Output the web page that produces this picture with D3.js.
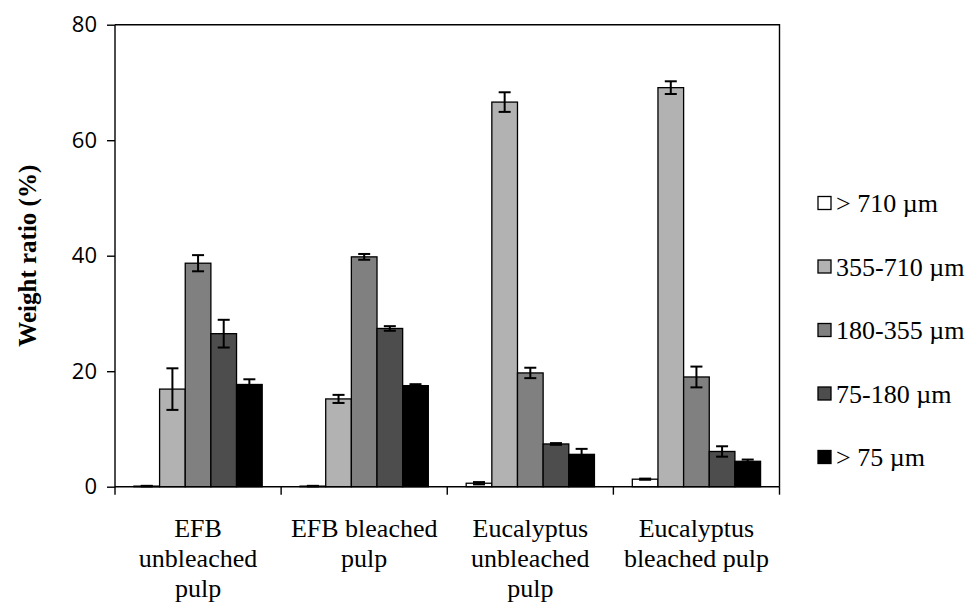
<!DOCTYPE html>
<html>
<head>
<meta charset="utf-8">
<script src="https://cdn.jsdelivr.net/npm/d3@7/dist/d3.min.js"></script>
<style>
  html, body { margin: 0; padding: 0; background: #fff; }
  svg { display: block; }
</style>
</head>
<body>
<svg id="chart" width="974" height="607"></svg>
<script>
// Pulp samples (x categories), each split into one line per label row
const categories = ["EFB unbleached pulp", "EFB bleached pulp", "Eucalyptus unbleached pulp", "Eucalyptus bleached pulp"];
const categoryLines = [
  ["EFB", "unbleached", "pulp"],
  ["EFB bleached", "pulp"],
  ["Eucalyptus", "unbleached", "pulp"],
  ["Eucalyptus", "bleached pulp"]
];

// Fibre size fractions (series)
const fractions = ["> 710 \u00b5m", "355-710 \u00b5m", "180-355 \u00b5m", "75-180 \u00b5m", "> 75 \u00b5m"];
const fractionColors = ["#ffffff", "#b2b2b2", "#808080", "#4d4d4d", "#000000"];

// Weight ratio (%) per fraction, one array per sample
const efbUnbleached = [0.1, 16.9, 38.7, 26.5, 17.7];
const efbBleached = [0.1, 15.2, 39.8, 27.4, 17.5];
const eucUnbleached = [0.6, 66.6, 19.7, 7.4, 5.6];
const eucBleached = [1.3, 69.1, 19.0, 6.1, 4.4];

// Standard deviations
const efbUnbleachedErr = [0.05, 3.6, 1.4, 2.4, 0.9];
const efbBleachedErr = [0.05, 0.7, 0.5, 0.4, 0.25];
const eucUnbleachedErr = [0.2, 1.7, 0.9, 0.15, 0.95];
const eucBleachedErr = [0.1, 1.1, 1.8, 0.9, 0.3];

const yTicks = [0, 20, 40, 60, 80];

const values = [efbUnbleached, efbBleached, eucUnbleached, eucBleached];
const errors = [efbUnbleachedErr, efbBleachedErr, eucUnbleachedErr, eucBleachedErr];

const rows = [];
categories.forEach((c, i) => {
  fractions.forEach((f, j) => {
    rows.push({ cat: c, frac: f, idx: j, value: values[i][j], err: errors[i][j] });
  });
});

const svg = d3.select("#chart");
const plot = { left: 115, right: 779.5, top: 24.7, bottom: 486.7 };

const x0 = d3.scaleBand().domain(categories).range([plot.left, plot.right]).padding(0);
const bw = x0.bandwidth();
const x1 = d3.scaleBand().domain(fractions).range([bw * 0.114, bw * 0.886]).padding(0);
const y = d3.scaleLinear().domain([0, 80]).range([plot.bottom, plot.top]);
const color = d3.scaleOrdinal().domain(fractions).range(fractionColors);

// Bars
const bars = svg.append("g");
bars.selectAll("rect")
  .data(rows)
  .join("rect")
  .attr("x", d => x0(d.cat) + x1(d.frac))
  .attr("y", d => y(d.value))
  .attr("width", x1.bandwidth())
  .attr("height", d => y(0) - y(d.value))
  .attr("fill", d => color(d.frac))
  .attr("stroke", "#000")
  .attr("stroke-width", 1.3);

// Error bars
const capHalf = 6;
const eb = svg.append("g").attr("stroke", "#000").attr("stroke-width", 2).attr("fill", "none");
rows.forEach(d => {
  const cx = x0(d.cat) + x1(d.frac) + x1.bandwidth() / 2;
  const yHi = y(d.value + d.err), yLo = y(Math.max(0, d.value - d.err));
  eb.append("line").attr("x1", cx).attr("x2", cx).attr("y1", yHi).attr("y2", yLo);
  eb.append("line").attr("x1", cx - capHalf).attr("x2", cx + capHalf).attr("y1", yHi).attr("y2", yHi);
  eb.append("line").attr("x1", cx - capHalf).attr("x2", cx + capHalf).attr("y1", yLo).attr("y2", yLo);
});

// Frame: top and right borders
svg.append("path")
  .attr("d", `M${plot.left},${plot.top}H${plot.right}V${plot.bottom}`)
  .attr("fill", "none").attr("stroke", "#000").attr("stroke-width", 1.4);

// Y axis
const yAxis = svg.append("g")
  .attr("transform", `translate(${plot.left},0)`)
  .call(d3.axisLeft(y).tickValues(yTicks).tickSize(8).tickPadding(10).tickFormat(d3.format("d")));
yAxis.select(".domain").attr("stroke-width", 1.4).attr("d", `M0,${plot.top}V${plot.bottom + 0.5}`);
yAxis.selectAll(".tick line").attr("stroke-width", 1.4);
yAxis.selectAll(".tick text")
  .attr("font-family", "'Open Sans', 'Liberation Sans', sans-serif")
  .attr("font-size", 22)
  .attr("fill", "#000");

// X axis: ticks at category boundaries
const xAxis = svg.append("g").attr("transform", `translate(0,${plot.bottom})`);
xAxis.append("line").attr("x1", plot.left).attr("x2", plot.right)
  .attr("stroke", "#000").attr("stroke-width", 1.4);
const bounds = categories.map(c => x0(c)).concat([x0(categories[categories.length - 1]) + bw]);
xAxis.selectAll("line.tk").data(bounds).join("line").attr("class", "tk")
  .attr("x1", d => d).attr("x2", d => d).attr("y1", 0).attr("y2", 8)
  .attr("stroke", "#000").attr("stroke-width", 1.4);

// Category labels
const serif = "'Liberation Serif', 'Times New Roman', serif";
categories.forEach((c, i) => {
  const t = svg.append("text")
    .attr("x", x0(c) + bw / 2)
    .attr("y", 537)
    .attr("text-anchor", "middle")
    .attr("font-family", serif)
    .attr("font-size", 26)
    .attr("fill", "#000");
  categoryLines[i].forEach((line, k) => {
    t.append("tspan").attr("x", x0(c) + bw / 2).attr("dy", k === 0 ? 0 : 30).text(line);
  });
});

// Y axis title
svg.append("text")
  .attr("transform", `translate(36,${(plot.top + plot.bottom) / 2}) rotate(-90)`)
  .attr("text-anchor", "middle")
  .attr("font-family", serif)
  .attr("font-weight", "bold")
  .attr("font-size", 25)
  .attr("fill", "#000")
  .text("Weight ratio (%)");

// Legend
const legendY = d3.scalePoint().domain(fractions).range([203, 457]);
const legend = svg.append("g");
fractions.forEach(f => {
  const cy = legendY(f);
  legend.append("rect")
    .attr("x", 818).attr("y", cy - 6.5).attr("width", 13).attr("height", 13)
    .attr("fill", color(f)).attr("stroke", "#000").attr("stroke-width", 1.3);
  legend.append("text")
    .attr("x", 836).attr("y", cy).attr("dy", "0.35em")
    .attr("font-family", serif).attr("font-size", 26).attr("fill", "#000")
    .text(f);
});
</script>
</body>
</html>
